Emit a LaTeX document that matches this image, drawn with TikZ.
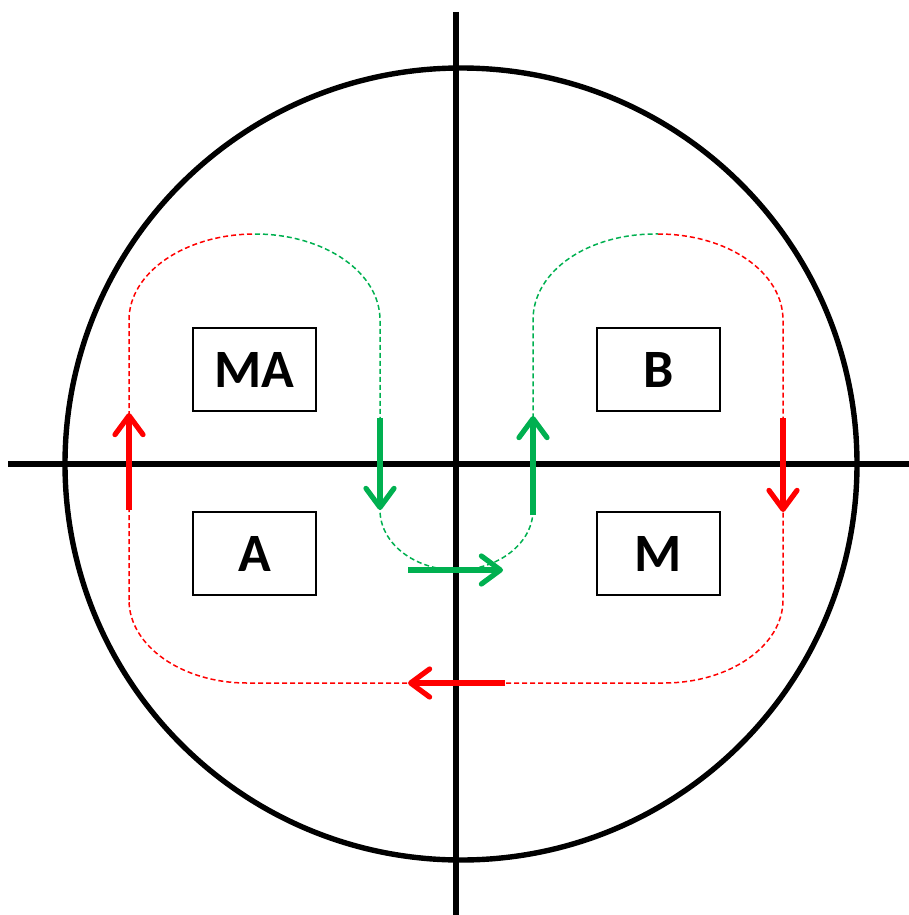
\documentclass[tikz,border=0pt]{standalone}
\usepackage{fontspec}
\setmainfont{Carlito}
\usetikzlibrary{arrows.meta}
\definecolor{flowgreen}{RGB}{0,176,80}
\tikzset{
  axisline/.style={line width=2.7pt,black},
  quadbox/.style={draw=black,line width=1pt,minimum width=61.5pt,minimum height=41.5pt,inner sep=0pt,
    font=\bfseries\fontsize{27}{27}\selectfont},
  rloop/.style={red,line width=0.75pt,dash pattern=on 2.5pt off 1.5pt},
  gloop/.style={flowgreen,line width=0.75pt,dash pattern=on 2.5pt off 1.5pt},
  rflow/.style={red,line width=2.6pt,-{Straight Barb[length=9.5pt,width=14pt,round]}},
  gflow/.style={flowgreen,line width=2.6pt,-{Straight Barb[length=9.5pt,width=14pt,round]}},
}
\begin{document}
\begin{tikzpicture}[x=0.5pt,y=-0.5pt]
  \useasboundingbox (0,0) rectangle (909,915);
  % circle and axes
  \draw[axisline] (461,464) circle[radius=198pt];
  \draw[axisline] (8,464) -- (909,464);
  \draw[axisline] (456,12) -- (456,915);
  % quadrant boxes
  \node[quadbox] (ma) at (254.5,369.5) {MA};
  \node[quadbox] (b)  at (658.5,369.5) {B};
  \node[quadbox] (a)  at (254.5,553.5) {A};
  \node[quadbox] (m)  at (658.5,553.5) {M};
  % red loop (dashed)
  \draw[rloop] (129,600) -- (129,320) .. controls (129,272.5) and (185.4,234) .. (255,234);
  \draw[rloop] (658,234) .. controls (728,234) and (783,272.5) .. (783,320) -- (783,600)
    .. controls (783,645.8) and (729.7,683) .. (664,683) -- (247,683)
    .. controls (182,683) and (129,645.8) .. (129,600);
  % green loop (dashed)
  \draw[gloop] (255,234) .. controls (324.6,234) and (380,272.5) .. (380,320) -- (380,510)
    .. controls (380,543.1) and (414.3,570) .. (456.5,570)
    .. controls (498.7,570) and (533,543.1) .. (533,510) -- (533,320)
    .. controls (533,270.6) and (588.9,233) .. (658,234);
  % flow arrows
  \draw[rflow] (129,510) -- (129,413);
  \draw[rflow] (783,418) -- (783,512);
  \draw[rflow] (505,683) -- (408,683);
  \draw[gflow] (380,418) -- (380,510);
  \draw[gflow] (408,570) -- (503,570);
  \draw[gflow] (533,515) -- (533,416);
\end{tikzpicture}
\end{document}
